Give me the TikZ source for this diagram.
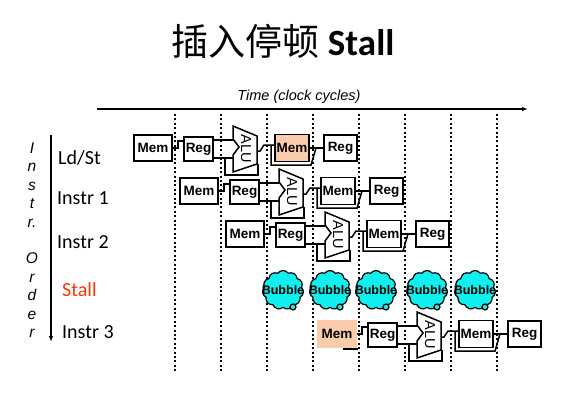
\documentclass[tikz,border=0pt]{standalone}
\usepackage{fontspec}
\setmainfont{Carlito}
\newfontfamily\arialfont{Liberation Sans}
\newfontfamily\cjk{Noto Sans CJK SC}
\usetikzlibrary{arrows.meta,calc,shapes.symbols}
\definecolor{peach}{RGB}{250,204,172}
\definecolor{bubcyan}{RGB}{17,238,238}
\definecolor{stallred}{RGB}{255,51,0}
\tikzset{
 stagebox/.style={draw, line width=1.5pt, fill=white, inner sep=0pt, font=\arialfont\bfseries\fontsize{13.5}{13.5}\selectfont},
 wire/.style={line width=1.5pt},
 alushape/.style={draw, line width=1.5pt, fill=white, line join=miter},
 clk/.style={line width=2pt, dash pattern=on 2pt off 2.4pt},
 bubblecloud/.style={cloud, cloud puffs=11, cloud puff arc=110, aspect=1.05, draw, line width=1.2pt, fill=bubcyan, minimum width=41pt, minimum height=39pt, inner sep=0pt},
 bubbletext/.style={font=\arialfont\bfseries\fontsize{12.5}{12.5}\selectfont, inner sep=0pt},
 puff/.style={circle, draw, line width=1.2pt, fill=bubcyan, minimum size=6pt, inner sep=0pt},
 rowlabel/.style={anchor=base west, inner sep=0pt, font=\fontsize{20}{20}\selectfont},
 orderletter/.style={anchor=base, inner sep=0pt, font=\arialfont\itshape\fontsize{15.5}{15.5}\selectfont},
 axisarrow/.style={line width=1.5pt, -{Latex[length=6pt,width=4.5pt]}},
}
% #1 x0, #2 yc, #3 name, #4 instr-mem style, #5 data-mem fill
\newcommand\pipeRow[5]{%
  \node[stagebox, minimum width=38pt, minimum height=26pt, #4] (#3im) at (#1+19,#2) {Mem};
  \node[stagebox, minimum width=29pt, minimum height=24pt] (#3rf) at (#1+64.5,#2+1) {Reg};
  \draw[wire] (#3im.east) -- ++(5,0) -- ++(0,-7) -- ($(#3rf.west)+(0,-8)$);
  \draw[wire] ($(#3rf.east)+(0,-9)$) -- (#1+99,#2-8);
  \draw[wire] ($(#3rf.east)+(0,9)$) -- (#1+99,#2+10);
  \draw[wire] (#1+91,#2+10) -- (#1+91,#2+27) -- (#1+124,#2+27) -- (#1+124,#2+16);
  \draw[alushape] (#1+99,#2-22) -- (#1+123,#2-12) -- (#1+123,#2+16) -- (#1+99,#2+24)
     -- (#1+99,#2+7) -- (#1+105,#2-1) -- (#1+99,#2-9) -- cycle;
  \node[rotate=-90, inner sep=0pt, font=\arialfont\fontsize{14.5}{14.5}\selectfont] (#3alu) at (#1+112,#2+1) {ALU};
  \draw[wire] (#1+137,#2-3) -- (#1+137,#2+17) -- (#1+177,#2+17) -- (#1+182,#2);
  \node[stagebox, minimum width=34pt, minimum height=27pt, fill=#5] (#3dm) at (#1+158,#2) {Mem};
  \draw[wire] (#1+123,#2+3) -- (#1+126,#2+3) -- (#1+130,#2-3) -- ($(#3dm.west)+(0,-3)$);
  \node[stagebox, minimum width=33pt, minimum height=26pt] (#3wb) at (#1+206.5,#2) {Reg};
  \draw[wire] (#3dm.east) -- (#3wb.west);
}
\begin{document}
\begin{tikzpicture}[x=1pt,y=-1pt]
\path[use as bounding box] (0,0) rectangle (570,402);
% title
\node[anchor=base, inner sep=0pt, font=\fontsize{37}{37}\selectfont] (title) at (283,55)
  {{\cjk 插入停顿} {\bfseries Stall}};
% time axis
\coordinate (t0) at (97,109);
\coordinate (t1) at (528,109);
\draw[axisarrow] (t0) -- (t1);
\node[anchor=base, inner sep=0pt, font=\arialfont\itshape\fontsize{14.5}{14.5}\selectfont] (tlabel) at (299,100) {Time (clock cycles)};
% clock lines
\foreach \x in {175,221,267,313,359,405,451,497} \draw[clk] (\x,114) -- (\x,373);
% instruction order
\coordinate (o0) at (51,135);
\coordinate (o1) at (51,342);
\draw[axisarrow] (o0) -- (o1);
\foreach \c/\k in {I/0,n/1,s/2,t/3,r./4,O/6,r/7,d/8,e/9,r/10}
  \node[orderletter] (ord\k) at (32,153.4+18.4*\k) {\c};
\node[rowlabel] (l1) at (58,164.5) {Ld/St};
\node[rowlabel] (l2) at (57,204.5) {Instr 1};
\node[rowlabel] (l3) at (57,248.5) {Instr 2};
\node[rowlabel, text=stallred] (l4) at (62,296.5) {Stall};
\node[rowlabel] (l5) at (62,338.5) {Instr 3};
% pipelines
\pipeRow{134}{148}{a}{}{peach}
\pipeRow{180}{191}{b}{}{white}
\pipeRow{226}{234}{c}{}{white}
\pipeRow{318}{334}{d}{fill=peach, draw=peach}{white}
\draw[wire] ($(dim.south east)+(-14,1)$) -- ($(dim.south east)+(1,1)$);
% bubbles
\foreach \x [count=\i] in {283,330,376,427,475} {
  \node[bubblecloud] (bub\i) at (\x,290) {};
  \node[puff] (bubp\i) at ($(bub\i)+(10,17)$) {};
  \node[bubbletext] (bubt\i) at (bub\i) {Bubble};
}
\end{tikzpicture}
\end{document}
